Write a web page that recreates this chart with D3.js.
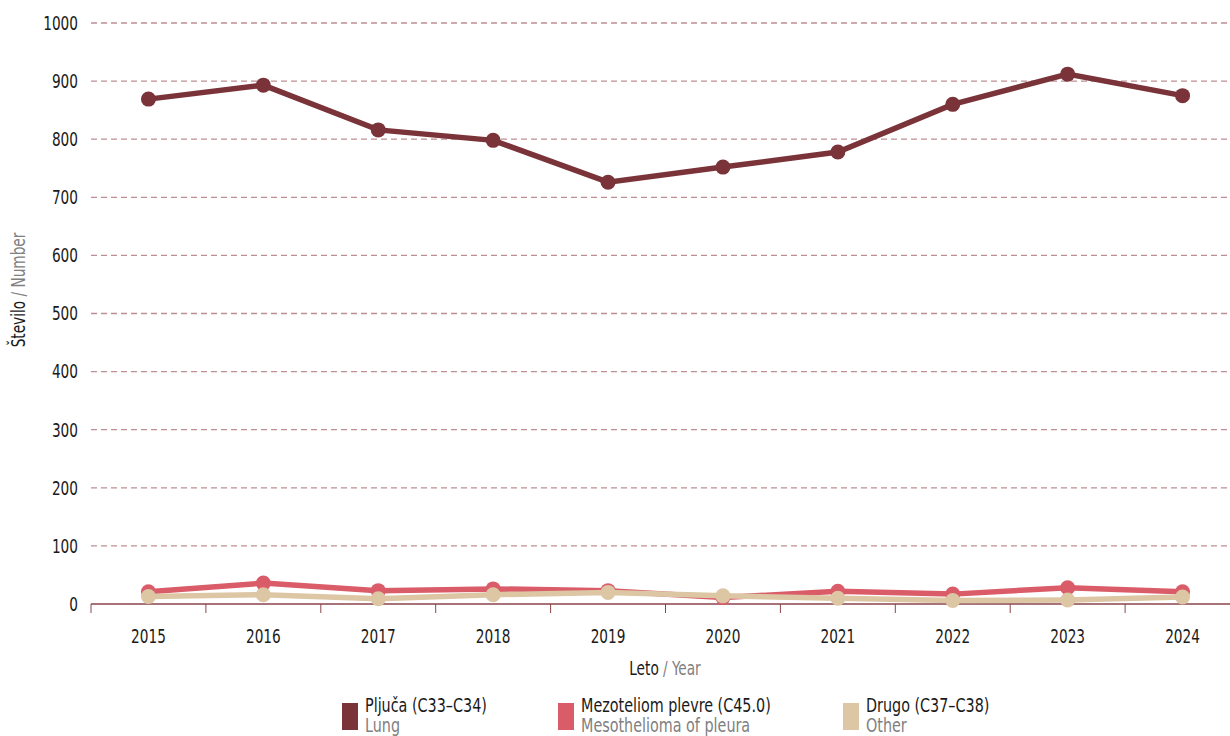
<!DOCTYPE html>
<meta charset="utf-8">
<style>
body { margin: 0; background: #fff; }
svg text { font-family: "DejaVu Sans Condensed", "DejaVu Sans", sans-serif; }
.grid line { stroke: #bd8f94; stroke-width: 1.3; stroke-dasharray: 6,4; }
.axis line { stroke: #8a454b; }
</style>
<body>
<script src="https://d3js.org/d3.v7.min.js"></script>
<script>

var years = [2015, 2016, 2017, 2018, 2019, 2020, 2021, 2022, 2023, 2024];
var lung = [869, 893, 816, 798, 726, 752, 778, 860, 912, 875];
var meso = [21, 36, 23, 26, 23, 11, 22, 17, 28, 21];
var other = [13, 16, 9, 16, 20, 14, 10, 6, 7, 12];
var yTicks = [0, 100, 200, 300, 400, 500, 600, 700, 800, 900, 1000];

var series = [
  { name: 'Mezoteliom plevre (C45.0)', en: 'Mesothelioma of pleura', values: meso, color: '#d95c68' },
  { name: 'Drugo (C37–C38)', en: 'Other', values: other, color: '#dcc6a4' },
  { name: 'Pljuča (C33–C34)', en: 'Lung', values: lung, color: '#7a3338' }
];
var legendOrder = [2, 0, 1];

var width = 1230, height = 736;
var fs = 19;

// narrow text: the reference uses a condensed face
function place(x0, y0, rot, sq) {
  return 'translate(' + x0 + ',' + y0 + ')' + (rot ? ' rotate(' + rot + ')' : '') + ' scale(' + (sq || 0.8) + ',1)';
}

var svg = d3.select('body').append('svg')
  .attr('width', width)
  .attr('height', height);

var x = d3.scaleBand().domain(years).range([91, 1240]);
var y = d3.scaleLinear().domain([0, 1000]).range([604, 23]);
var cx = d => x(d) + x.bandwidth() / 2;

// grid
svg.append('g').attr('class', 'grid')
  .selectAll('line')
  .data(yTicks.filter(d => d > 0))
  .join('line')
  .attr('x1', 91).attr('x2', width)
  .attr('y1', d => y(d)).attr('y2', d => y(d));

// y labels
svg.append('g')
  .selectAll('text')
  .data(yTicks)
  .join('text')
  .attr('transform', d => place(78, y(d)))
  .attr('dy', '0.36em')
  .attr('text-anchor', 'end')
  .attr('font-size', fs)
  .attr('fill', '#1a1a1a')
  .text(d => d);

// x axis
var xAxis = svg.append('g').attr('class', 'axis')
  .attr('transform', 'translate(0,' + y(0) + ')');
xAxis.append('line')
  .attr('x1', 91).attr('x2', width)
  .attr('stroke-width', 1.6);
xAxis.selectAll('.tick')
  .data(years)
  .join('line')
  .attr('x1', d => x(d)).attr('x2', d => x(d))
  .attr('y1', 0).attr('y2', 9)
  .attr('stroke-width', 1);
xAxis.selectAll('text')
  .data(years)
  .join('text')
  .attr('transform', d => place(cx(d), 39))
  .attr('text-anchor', 'middle')
  .attr('font-size', fs)
  .attr('fill', '#1a1a1a')
  .text(d => d);

// lines
var line = d3.line()
  .x((d, i) => cx(years[i]))
  .y(d => y(d));

series.forEach(function(s) {
  var g = svg.append('g');
  g.append('path')
    .attr('d', line(s.values))
    .attr('fill', 'none')
    .attr('stroke', s.color)
    .attr('stroke-width', 5.5);
  g.selectAll('circle')
    .data(s.values)
    .join('circle')
    .attr('cx', (d, i) => cx(years[i]))
    .attr('cy', d => y(d))
    .attr('r', 7.5)
    .attr('fill', s.color);
});

// axis titles
var yt = svg.append('text')
  .attr('transform', place(25, 290, -90))
  .attr('text-anchor', 'middle')
  .attr('font-size', fs);
yt.append('tspan').attr('fill', '#1a1a1a').text('Število');
yt.append('tspan').attr('fill', '#808080').text(' / Number');

var xt = svg.append('text')
  .attr('transform', place(665, 675))
  .attr('text-anchor', 'middle')
  .attr('font-size', fs);
xt.append('tspan').attr('fill', '#1a1a1a').text('Leto');
xt.append('tspan').attr('fill', '#808080').text(' / Year');

// legend
var legX = [342, 558, 843];
var leg = svg.append('g')
  .selectAll('g')
  .data(legendOrder.map(i => series[i]))
  .join('g')
  .attr('transform', (d, i) => 'translate(' + legX[i] + ',0)');
leg.append('rect')
  .attr('x', 0).attr('y', 703)
  .attr('width', 16).attr('height', 27)
  .attr('fill', d => d.color);
leg.append('text')
  .attr('transform', place(23, 712, 0, 0.84))
  .attr('font-size', fs)
  .attr('fill', '#1a1a1a')
  .text(d => d.name);
leg.append('text')
  .attr('transform', place(23, 732, 0, 0.84))
  .attr('font-size', fs)
  .attr('fill', '#808080')
  .text(d => d.en);

</script>
</body>
